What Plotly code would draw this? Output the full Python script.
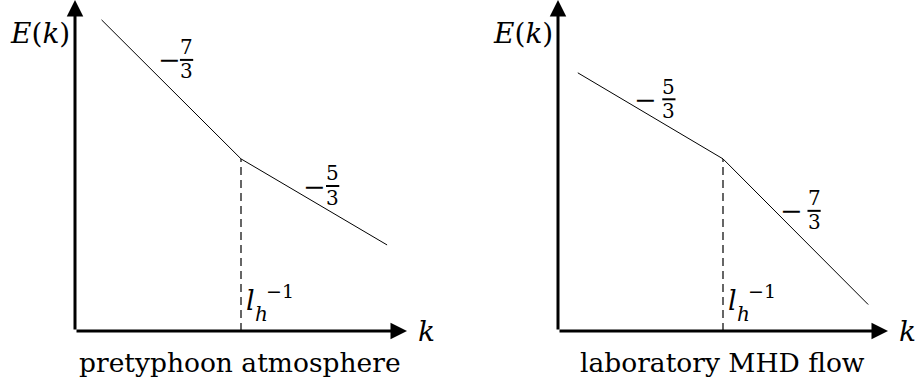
import plotly.graph_objects as go

# broken power-law spectra, axis units 0..10
left_k = [0.8, 5.0, 9.4]
left_E = [9.4, 5.2, 2.6]
right_k = [0.6, 5.0, 9.4]
right_E = [7.8, 5.2, 0.8]
l_h = 5.0

left_title = "pretyphoon atmosphere"
right_title = "laboratory MHD flow"
left_slopes = [("7", 2.85, 3.36, 8.19), ("5", 7.21, 7.76, 4.38)]
right_slopes = [("5", 2.64, 3.36, 7.0), ("7", 7.09, 7.76, 3.63)]

FONT = "DejaVu Serif"
W, H = 918, 385

fig = go.Figure()

annotations = []
shapes = []


def txt(text, x, y, xr, yr, size, **kw):
    # positions in axis units, placed via the axis domain so they are never hidden
    annotations.append(dict(
        text=text, x=x / 10, y=y / 10, xref=f"{xr} domain", yref=f"{yr} domain",
        showarrow=False, font=dict(family=FONT, size=size, color="black"),
        xanchor="center", yanchor="middle", **kw,
    ))


def add_panel(idx, k, E, title, slopes):
    xr = "x" if idx == 1 else f"x{idx}"
    yr = "y" if idx == 1 else f"y{idx}"

    fig.add_trace(go.Scatter(
        x=k, y=E, mode="lines", line=dict(color="black", width=1),
        xaxis=xr, yaxis=yr, showlegend=False, hoverinfo="skip",
    ))
    fig.add_trace(go.Scatter(
        x=[l_h, l_h], y=[0, E[1]], mode="lines",
        line=dict(color="black", width=1.2, dash="8px,5px"),
        xaxis=xr, yaxis=yr, showlegend=False, hoverinfo="skip",
    ))

    # axes with arrows
    for (x, y) in [(10, 0), (0, 10)]:
        annotations.append(dict(
            x=x, y=y, ax=0, ay=0, xref=xr, yref=yr, axref=xr, ayref=yr,
            text="", showarrow=True, arrowhead=2, arrowsize=1.1,
            arrowwidth=3, arrowcolor="black", standoff=0,
        ))

    txt("<i>E</i>(<i>k</i>)", -1.05, 9.0, xr, yr, 28)
    txt("<i>k</i>", 10.6, 0.0, xr, yr, 28)
    txt(title, 4.97, -0.94, xr, yr, 26.5)

    # l_h^{-1}
    txt("<i>l</i>", 5.30, 0.91, xr, yr, 27)
    txt("<i>h</i>", 5.63, 0.50, xr, yr, 20)
    txt("−1", 6.17, 1.22, xr, yr, 19)

    # slope fractions
    for num, xm, xf, yb in slopes:
        txt("−", xm, yb, xr, yr, 27)
        txt(num, xf, yb + 0.38, xr, yr, 20)
        txt("3", xf, yb - 0.35, xr, yr, 20)
        shapes.append(dict(
            type="line", xref=xr, yref=yr, x0=xf - 0.2, x1=xf + 0.2,
            y0=yb, y1=yb, line=dict(color="black", width=2),
        ))


add_panel(1, left_k, left_E, left_title, left_slopes)
add_panel(2, right_k, right_E, right_title, right_slopes)

ax_common = dict(visible=False, range=[0, 10], fixedrange=True)
fig.update_layout(
    width=W, height=H,
    margin=dict(l=0, r=0, t=0, b=0),
    paper_bgcolor="white", plot_bgcolor="white",
    xaxis=dict(domain=[75 / W, 407 / W], **ax_common),
    yaxis=dict(domain=[54 / H, 1.0], **ax_common),
    xaxis2=dict(domain=[558 / W, 888 / W], anchor="y2", **ax_common),
    yaxis2=dict(domain=[54 / H, 1.0], anchor="x2", **ax_common),
    annotations=annotations,
    shapes=shapes,
)

fig.write_html(
    "out.html",
    config={"displayModeBar": False},
    post_script="document.body.style.margin='0';",
)
